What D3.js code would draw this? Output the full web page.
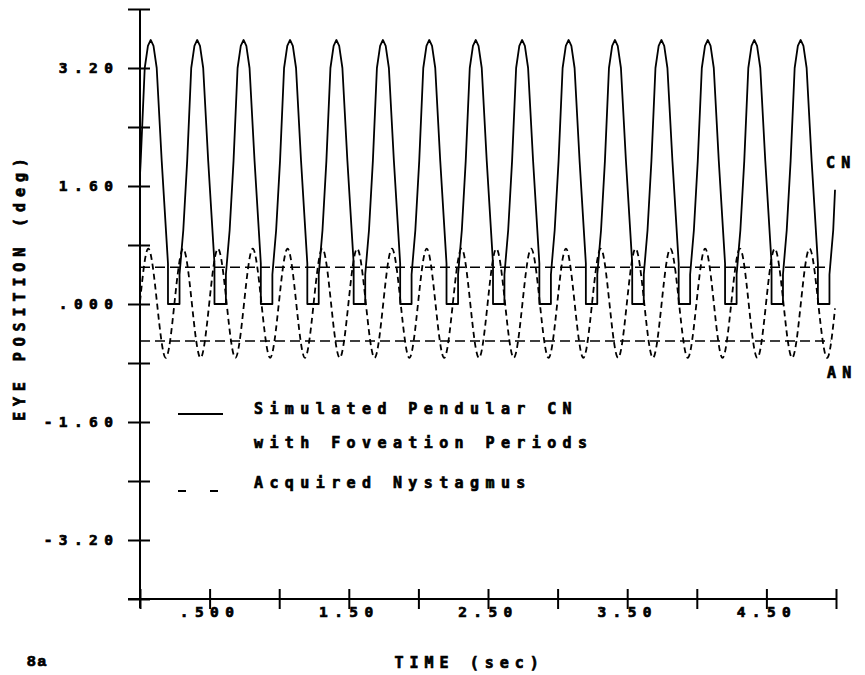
<!DOCTYPE html>
<html>
<head>
<meta charset="utf-8">
<script src="https://cdn.jsdelivr.net/npm/d3@7"></script>
<style>
  body { margin: 0; background: #fff; }
  text { font-family: "DejaVu Sans Mono", monospace; font-weight: bold; fill: #000; stroke: #000; stroke-width: 0.7px; }
</style>
</head>
<body>
<div id="chart"></div>
<script>
// axis ticks
const yTickValues = [-4, -3.2, -2.4, -1.6, -0.8, 0, 0.8, 1.6, 2.4, 3.2, 4];
const yTickLabels = ["", "-3.20", "", "-1.60", "", ".000", "", "1.60", "", "3.20", ""];
const xTickValues = [0, 0.5, 1, 1.5, 2, 2.5, 3, 3.5, 4, 4.5, 5];
const xTickLabels = ["", ".500", "", "1.50", "", "2.50", "", "3.50", "", "4.50", ""];

// foveation window (deg)
const foveationLimits = [0.5, -0.5];
const foveationSpan = [0, 4.96];

// simulated pendular CN with foveation periods: [time s, position deg]
const cnData = [
  [0, 1.75], [0.005, 1.94], [0.034, 3.2], [0.057, 3.5], [0.077, 3.58], [0.097, 3.5], [0.120, 3.2], [0.156, 1.94], [0.201, 0.55], [0.201, 0],
  [0.284, 0], [0.284, 0.40], [0.311, 1.0], [0.339, 1.94], [0.368, 3.2], [0.391, 3.5], [0.411, 3.58], [0.431, 3.5], [0.454, 3.2], [0.490, 1.94], [0.535, 0.55], [0.535, 0],
  [0.617, 0], [0.617, 0.40], [0.644, 1.0], [0.672, 1.94], [0.701, 3.2], [0.724, 3.5], [0.744, 3.58], [0.764, 3.5], [0.787, 3.2], [0.823, 1.94], [0.868, 0.55], [0.868, 0],
  [0.951, 0], [0.951, 0.40], [0.978, 1.0], [1.006, 1.94], [1.035, 3.2], [1.058, 3.5], [1.078, 3.58], [1.098, 3.5], [1.121, 3.2], [1.157, 1.94], [1.202, 0.55], [1.202, 0],
  [1.284, 0], [1.284, 0.40], [1.311, 1.0], [1.339, 1.94], [1.368, 3.2], [1.391, 3.5], [1.411, 3.58], [1.431, 3.5], [1.454, 3.2], [1.490, 1.94], [1.535, 0.55], [1.535, 0],
  [1.618, 0], [1.618, 0.40], [1.645, 1.0], [1.673, 1.94], [1.702, 3.2], [1.725, 3.5], [1.745, 3.58], [1.765, 3.5], [1.788, 3.2], [1.824, 1.94], [1.869, 0.55], [1.869, 0],
  [1.951, 0], [1.951, 0.40], [1.978, 1.0], [2.006, 1.94], [2.035, 3.2], [2.058, 3.5], [2.078, 3.58], [2.098, 3.5], [2.121, 3.2], [2.157, 1.94], [2.202, 0.55], [2.202, 0],
  [2.285, 0], [2.285, 0.40], [2.312, 1.0], [2.340, 1.94], [2.369, 3.2], [2.392, 3.5], [2.412, 3.58], [2.432, 3.5], [2.455, 3.2], [2.491, 1.94], [2.536, 0.55], [2.536, 0],
  [2.618, 0], [2.618, 0.40], [2.645, 1.0], [2.673, 1.94], [2.702, 3.2], [2.725, 3.5], [2.745, 3.58], [2.765, 3.5], [2.788, 3.2], [2.824, 1.94], [2.869, 0.55], [2.869, 0],
  [2.952, 0], [2.952, 0.40], [2.979, 1.0], [3.007, 1.94], [3.036, 3.2], [3.059, 3.5], [3.079, 3.58], [3.099, 3.5], [3.122, 3.2], [3.158, 1.94], [3.203, 0.55], [3.203, 0],
  [3.285, 0], [3.285, 0.40], [3.312, 1.0], [3.340, 1.94], [3.369, 3.2], [3.392, 3.5], [3.412, 3.58], [3.432, 3.5], [3.455, 3.2], [3.491, 1.94], [3.536, 0.55], [3.536, 0],
  [3.619, 0], [3.619, 0.40], [3.646, 1.0], [3.674, 1.94], [3.703, 3.2], [3.726, 3.5], [3.746, 3.58], [3.766, 3.5], [3.789, 3.2], [3.825, 1.94], [3.870, 0.55], [3.870, 0],
  [3.952, 0], [3.952, 0.40], [3.979, 1.0], [4.007, 1.94], [4.036, 3.2], [4.059, 3.5], [4.079, 3.58], [4.099, 3.5], [4.122, 3.2], [4.158, 1.94], [4.203, 0.55], [4.203, 0],
  [4.286, 0], [4.286, 0.40], [4.313, 1.0], [4.341, 1.94], [4.370, 3.2], [4.393, 3.5], [4.413, 3.58], [4.433, 3.5], [4.456, 3.2], [4.492, 1.94], [4.537, 0.55], [4.537, 0],
  [4.619, 0], [4.619, 0.40], [4.646, 1.0], [4.674, 1.94], [4.703, 3.2], [4.726, 3.5], [4.746, 3.58], [4.766, 3.5], [4.789, 3.2], [4.825, 1.94], [4.870, 0.55], [4.870, 0],
  [4.953, 0], [4.953, 0.40], [4.980, 1.0], [4.993, 1.55]
];

// acquired nystagmus: [time s, position deg]
const anData = [
  [0, 0.03],
  [0.060, 0.75], [0.1225, 0.01], [0.185, -0.73], [0.2475, 0.01],
  [0.310, 0.75], [0.3725, 0.01], [0.435, -0.73], [0.4975, 0.01],
  [0.560, 0.75], [0.6225, 0.01], [0.685, -0.73], [0.7475, 0.01],
  [0.810, 0.75], [0.8725, 0.01], [0.935, -0.73], [0.9975, 0.01],
  [1.060, 0.75], [1.1225, 0.01], [1.185, -0.73], [1.2475, 0.01],
  [1.310, 0.75], [1.3725, 0.01], [1.435, -0.73], [1.4975, 0.01],
  [1.560, 0.75], [1.6225, 0.01], [1.685, -0.73], [1.7475, 0.01],
  [1.810, 0.75], [1.8725, 0.01], [1.935, -0.73], [1.9975, 0.01],
  [2.060, 0.75], [2.1225, 0.01], [2.185, -0.73], [2.2475, 0.01],
  [2.310, 0.75], [2.3725, 0.01], [2.435, -0.73], [2.4975, 0.01],
  [2.560, 0.75], [2.6225, 0.01], [2.685, -0.73], [2.7475, 0.01],
  [2.810, 0.75], [2.8725, 0.01], [2.935, -0.73], [2.9975, 0.01],
  [3.060, 0.75], [3.1225, 0.01], [3.185, -0.73], [3.2475, 0.01],
  [3.310, 0.75], [3.3725, 0.01], [3.435, -0.73], [3.4975, 0.01],
  [3.560, 0.75], [3.6225, 0.01], [3.685, -0.73], [3.7475, 0.01],
  [3.810, 0.75], [3.8725, 0.01], [3.935, -0.73], [3.9975, 0.01],
  [4.060, 0.75], [4.1225, 0.01], [4.185, -0.73], [4.2475, 0.01],
  [4.310, 0.75], [4.3725, 0.01], [4.435, -0.73], [4.4975, 0.01],
  [4.560, 0.75], [4.6225, 0.01], [4.685, -0.73], [4.7475, 0.01],
  [4.810, 0.75], [4.8725, 0.01], [4.935, -0.73], [4.993, -0.06]
];

const width = 865, height = 675;

const svg = d3.select("#chart")
  .append("svg")
    .attr("width", width)
    .attr("height", height)
    .style("background", "#fff");

const x = d3.scaleLinear().domain([0, 5]).range([140, 836]);
const y = d3.scaleLinear().domain([-4, 4]).range([599, 9]);

// axis lines (extend a little past the origin like the original plotter)
svg.append("line")
  .attr("x1", x(0)).attr("x2", x(0))
  .attr("y1", y(4)).attr("y2", y(-4) + 9)
  .attr("stroke", "#000").attr("stroke-width", 2);
svg.append("line")
  .attr("x1", x(0) - 12).attr("x2", x(5))
  .attr("y1", y(-4)).attr("y2", y(-4))
  .attr("stroke", "#000").attr("stroke-width", 2);

// y axis
svg.append("g")
    .attr("transform", `translate(${x(0)},0)`)
    .call(d3.axisLeft(y).tickValues(yTickValues).tickSize(12).tickSizeOuter(0)
      .tickFormat((d, i) => yTickLabels[i]))
    .call(g => g.select(".domain").remove())
    .call(g => g.selectAll(".tick line").attr("x1", 10).attr("stroke", "#000").attr("stroke-width", 2))
    .call(g => g.selectAll(".tick text")
      .attr("x", -20.7)
      .attr("dy", "0.32em")
      .style("font-family", "'DejaVu Sans Mono', monospace")
      .style("font-weight", "bold")
      .style("font-size", "14.5px")
      .style("letter-spacing", "6.4px")
      .attr("fill", "#000"));

// x axis
svg.append("g")
    .attr("transform", `translate(0,${y(-4)})`)
    .call(d3.axisBottom(x).tickValues(xTickValues).tickSize(10).tickSizeOuter(0)
      .tickFormat((d, i) => xTickLabels[i]))
    .call(g => g.select(".domain").remove())
    .call(g => g.selectAll(".tick line").attr("y1", -10).attr("stroke", "#000").attr("stroke-width", 2))
    .call(g => g.selectAll(".tick text")
      .attr("y", 18)
      .attr("dy", 0)
      .style("font-family", "'DejaVu Sans Mono', monospace")
      .style("font-weight", "bold")
      .style("font-size", "14.5px")
      .style("letter-spacing", "6.4px")
      .attr("fill", "#000"));

// foveation window lines
svg.append("g")
  .selectAll("line")
  .data(foveationLimits)
  .join("line")
    .attr("x1", x(foveationSpan[0])).attr("x2", x(foveationSpan[1]))
    .attr("y1", d => y(d)).attr("y2", d => y(d))
    .attr("stroke", "#000")
    .attr("stroke-width", 1.5)
    .attr("stroke-dasharray", "10,5");

// AN trace
svg.append("path")
  .datum(anData)
  .attr("fill", "none")
  .attr("stroke", "#000")
  .attr("stroke-width", 1.8)
  .attr("stroke-dasharray", "6,4")
  .attr("d", d3.line().curve(d3.curveNatural).x(d => x(d[0])).y(d => y(d[1])));

// CN trace
svg.append("path")
  .datum(cnData)
  .attr("fill", "none")
  .attr("stroke", "#000")
  .attr("stroke-width", 1.8)
  .attr("stroke-linejoin", "round")
  .attr("d", d3.line().x(d => x(d[0])).y(d => y(d[1])));

// labels
const label = (txt, px, py, size, ls) => svg.append("text")
  .attr("x", px).attr("y", py)
  .style("font-size", size + "px")
  .style("letter-spacing", ls + "px")
  .text(txt);

label("CN", 826, 168, 15, 6.3);
label("AN", 827, 378, 15, 6.3);

// legend
svg.append("line")
  .attr("x1", 178).attr("x2", 223).attr("y1", 414).attr("y2", 414)
  .attr("stroke", "#000").attr("stroke-width", 1.8);
svg.append("line")
  .attr("x1", 178).attr("x2", 218).attr("y1", 491).attr("y2", 491)
  .attr("stroke", "#000").attr("stroke-width", 1.8)
  .attr("stroke-dasharray", "8,24");
label("Simulated Pendular CN", 254, 414, 15, 6.4);
label("with Foveation Periods", 254, 448, 15, 6.4);
label("Acquired Nystagmus", 254, 488, 15, 6.4);

// axis titles
label("TIME (sec)", 394.5, 668, 15, 6.0);
svg.append("text")
  .attr("transform", "translate(25,421) rotate(-90)")
  .style("font-size", "15px")
  .style("letter-spacing", "5.9px")
  .text("EYE POSITION (deg)");

svg.append("text")
  .attr("x", 27).attr("y", 666)
  .style("font-family", "'Liberation Sans', Arial, sans-serif")
  .style("font-size", "15.5px")
  .style("letter-spacing", "2px")
  .text("8a");
</script>
</body>
</html>
